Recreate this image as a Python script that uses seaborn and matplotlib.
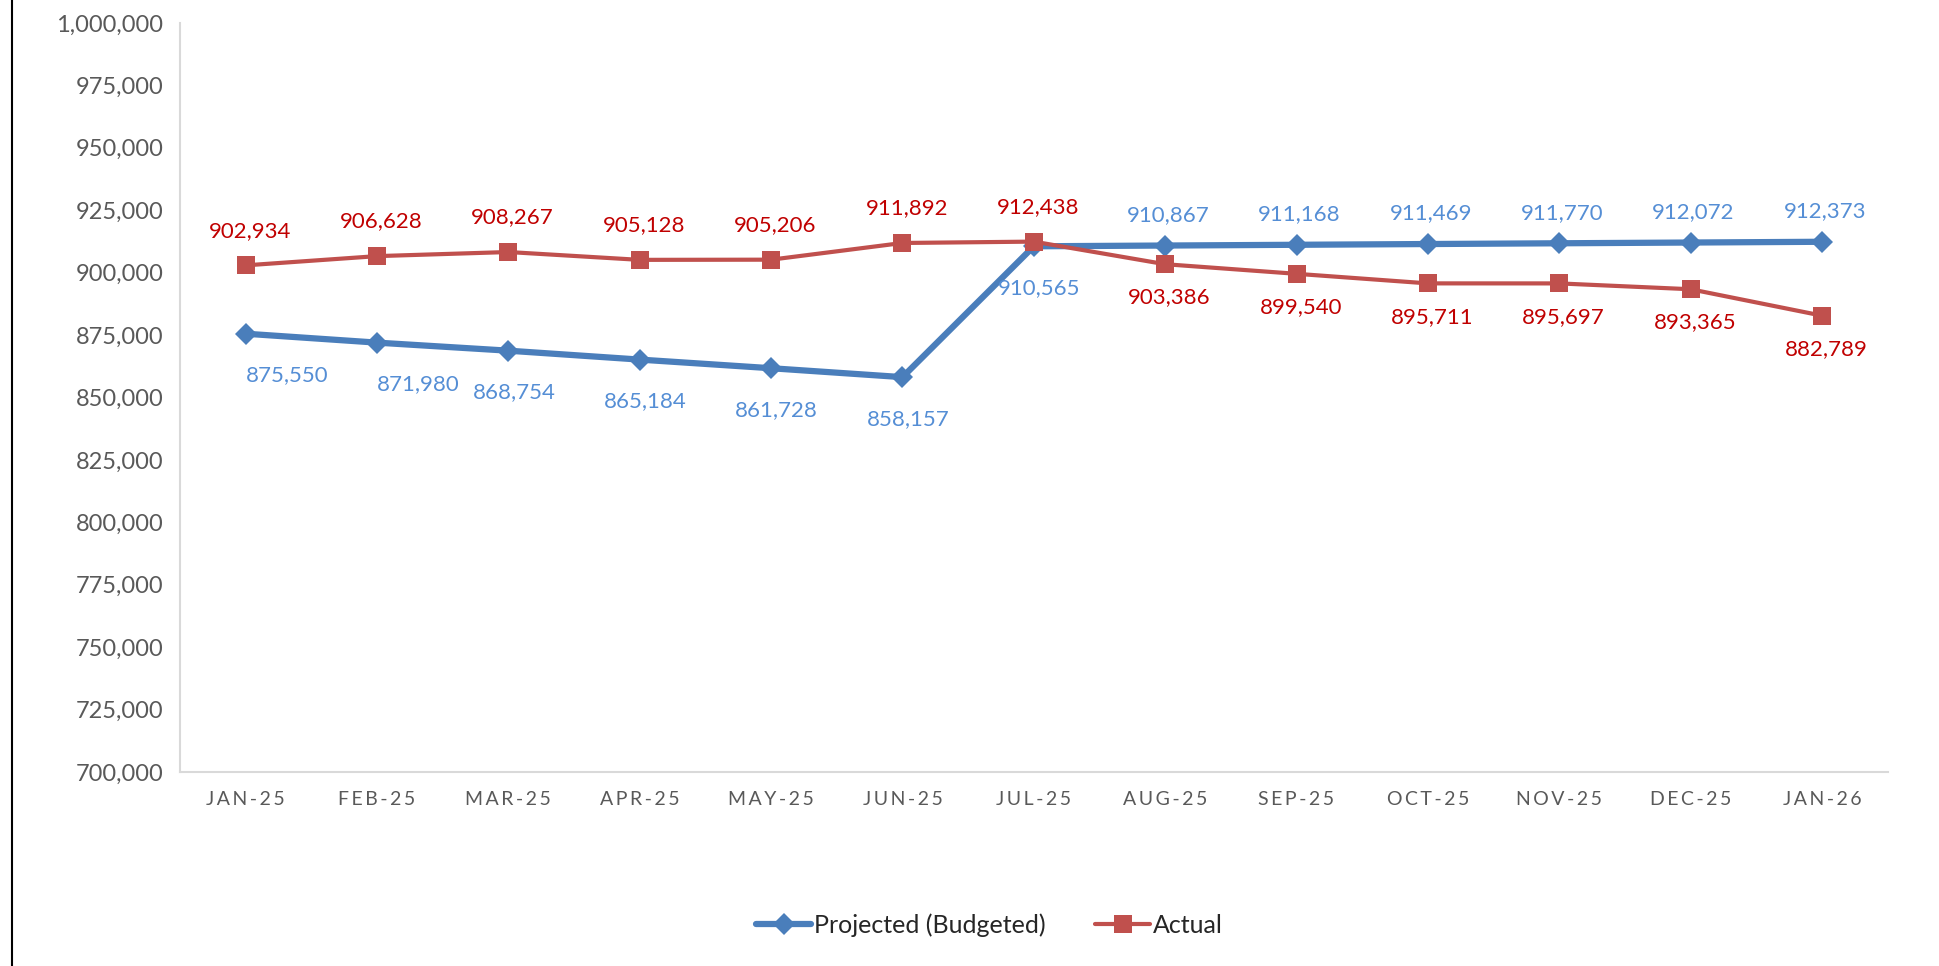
import pandas as pd
import seaborn as sns
import matplotlib.pyplot as plt
from matplotlib.lines import Line2D
from matplotlib.ticker import FuncFormatter

# data
months = ["JAN-25", "FEB-25", "MAR-25", "APR-25", "MAY-25", "JUN-25", "JUL-25",
          "AUG-25", "SEP-25", "OCT-25", "NOV-25", "DEC-25", "JAN-26"]
projected = [875550, 871980, 868754, 865184, 861728, 858157, 910565,
             910867, 911168, 911469, 911770, 912072, 912373]
actual = [902934, 906628, 908267, 905128, 905206, 911892, 912438,
          903386, 899540, 895711, 895697, 893365, 882789]

# colours
blue = "#4A7EBB"
blue_lbl = "#558ED5"
red = "#C0504D"
red_lbl = "#C00000"
tick_col = "#595959"
axis_col = "#D9D9D9"

sns.set_style("white")
plt.rcParams['font.family'] = ['Lato', 'DejaVu Sans']

df = pd.DataFrame({"idx": range(len(months)), "Projected (Budgeted)": projected, "Actual": actual})

fig = plt.figure(figsize=(19.4, 9.66), dpi=100)
ax = fig.add_axes([0.0928, 0.2008, 0.8802, 0.7754])

sns.lineplot(data=df, x="idx", y="Projected (Budgeted)", ax=ax, color=blue, lw=4.5,
             marker="D", markersize=11, markeredgewidth=0, label="Projected (Budgeted)", zorder=3)
sns.lineplot(data=df, x="idx", y="Actual", ax=ax, color=red, lw=3,
             marker="s", markersize=13, markeredgewidth=0, label="Actual", zorder=4)

# data labels
for i, v in enumerate(projected):
    off = -30 if i < 7 else 22
    dx = 4 if i < 7 else 2
    if i < 2:
        dx = 30
    ax.annotate(f"{v:,}", (i, v), xytext=(dx, off), textcoords="offset points",
                ha="center", va="center", fontsize=16, color=blue_lbl)
for i, v in enumerate(actual):
    off = 25 if i < 7 else -24
    ax.annotate(f"{v:,}", (i, v), xytext=(3, off), textcoords="offset points",
                ha="center", va="center", fontsize=16, color=red_lbl)

# axes
ax.set_xlim(-0.5, len(months) - 0.5)
ax.set_ylim(700000, 1000000)
ax.set_yticks(range(700000, 1000001, 25000))
ax.yaxis.set_major_formatter(FuncFormatter(lambda v, p: f"{int(v):,}"))
ax.set_xticks(range(len(months)))
spaced = ["\u2009".join(m) for m in months]
ax.set_xticklabels(spaced)
ax.set_xticks([i - 0.5 for i in range(len(months) + 1)], minor=True)
ax.tick_params(axis="x", which="major", length=0, pad=14, labelsize=14, labelcolor=tick_col)
ax.tick_params(axis="x", which="minor", length=6, width=1.5, color=axis_col, direction="out")
ax.tick_params(axis="y", which="major", length=6, width=1.5, color=axis_col, direction="out",
               labelsize=17, labelcolor=tick_col, pad=6)
ax.set_xlabel("")
ax.set_ylabel("")
for s in ["top", "right"]:
    ax.spines[s].set_visible(False)
for s in ["left", "bottom"]:
    ax.spines[s].set_color(axis_col)
    ax.spines[s].set_linewidth(1.5)

leg = ax.legend(loc="center", bbox_to_anchor=(0.51, 0.042), bbox_transform=fig.transFigure,
                ncol=2, frameon=False, fontsize=18, handlelength=2.2, columnspacing=2.0,
                handletextpad=0.1)

# left border line of the original frame
fig.add_artist(Line2D([0.0062, 0.0062], [0, 1], transform=fig.transFigure, color="black", lw=1.5))

fig.savefig("out.png", dpi=100)
